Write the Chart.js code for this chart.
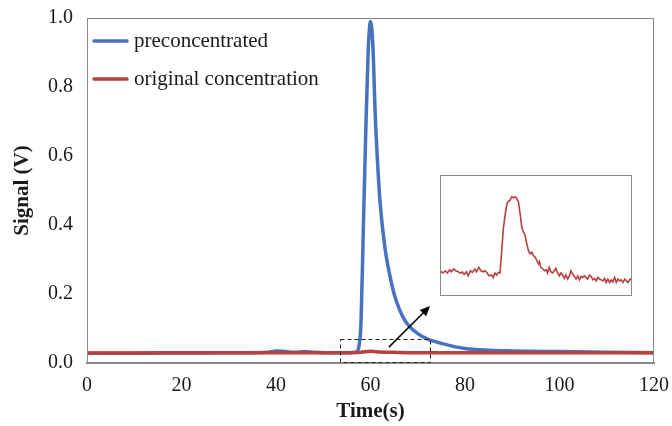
<!DOCTYPE html>
<html>
<head>
<meta charset="utf-8">
<script src="https://cdn.jsdelivr.net/npm/chart.js@4.4.1/dist/chart.umd.min.js"></script>
<style>
  html, body { margin: 0; padding: 0; background: #fff; }
  #wrap { position: relative; width: 672px; height: 426px; }
  #main { position: absolute; left: 0; top: 0; }
  #inset { position: absolute; left: 440px; top: 175px; }
</style>
</head>
<body>
<div id="wrap">
  <canvas id="main" width="672" height="426"></canvas>
  <canvas id="inset" width="192" height="121"></canvas>
</div>
<script>
// ---------- data ----------
const seriesNames = ['preconcentrated', 'original concentration'];

const preTime = [0, 5, 10, 15, 20, 25, 30, 35, 38, 40, 42, 44, 46, 48, 50, 54, 56, 57, 57.5, 58, 58.5, 59, 59.5, 60, 60.5, 61, 61.5, 62, 63, 64, 65, 66, 67, 68, 70, 72, 75, 80, 85, 90, 100, 110, 120];
const preSignal = [0.028, 0.028, 0.028, 0.029, 0.029, 0.029, 0.030, 0.030, 0.031, 0.035, 0.033, 0.031, 0.033, 0.031, 0.030, 0.030, 0.030, 0.032, 0.045, 0.12, 0.40, 0.67, 0.90, 0.99, 0.92, 0.72, 0.58, 0.47, 0.34, 0.26, 0.20, 0.16, 0.13, 0.11, 0.085, 0.07, 0.057, 0.042, 0.037, 0.035, 0.033, 0.031, 0.030];

const origTime = [0, 10, 20, 30, 40, 50, 55, 58, 60, 62, 65, 70, 80, 90, 100, 110, 120];
const origSignal = [0.029, 0.029, 0.030, 0.030, 0.030, 0.030, 0.030, 0.031, 0.034, 0.032, 0.031, 0.030, 0.030, 0.030, 0.030, 0.030, 0.030];

// inset: original concentration, zoomed (mV)
const insetTime = [53.5, 53.57, 53.80, 54.03, 54.23, 54.47, 54.63, 54.87, 55.07, 55.30, 55.53, 55.73, 55.90, 56.13, 56.30, 56.53, 56.73, 56.97, 57.13, 57.37, 57.57, 57.80, 57.97, 58.20, 58.37, 58.63, 58.80, 58.97, 59.13, 59.30, 59.47, 59.63, 59.80, 59.97, 60.13, 60.30, 60.47, 60.63, 60.80, 60.97, 61.13, 61.30, 61.47, 61.63, 61.80, 61.97, 62.13, 62.30, 62.47, 62.63, 62.80, 62.97, 63.13, 63.30, 63.40, 63.53, 63.73, 63.90, 64.07, 64.20, 64.37, 64.53, 64.70, 64.87, 65.03, 65.20, 65.37, 65.53, 65.70, 65.87, 66.03, 66.20, 66.37, 66.53, 66.70, 66.87, 67.03, 67.20, 67.37, 67.53, 67.70, 67.87, 68.03, 68.20, 68.37, 68.53, 68.70, 68.87, 69.03, 69.20, 69.37, 69.53, 69.70, 69.87, 70.03, 70.20, 70.37, 70.53, 70.70, 70.87, 71.03, 71.20, 71.37, 71.53, 71.70, 71.87, 72.03, 72.20, 72.37, 72.53];
const insetSignal = [30.18, 30.22, 30.14, 30.25, 30.14, 30.30, 30.20, 30.34, 30.25, 30.20, 30.14, 30.19, 30.07, 30.20, 30.00, 30.25, 30.17, 30.34, 30.20, 30.42, 30.25, 30.20, 30.25, 30.14, 30.00, 30.04, 29.92, 30.14, 30.04, 30.17, 30.14, 31.17, 32.34, 33.00, 33.50, 33.70, 33.75, 33.92, 33.87, 33.92, 33.84, 33.67, 33.09, 32.42, 32.17, 32.00, 31.59, 31.25, 31.09, 31.17, 31.00, 30.92, 30.75, 30.59, 30.70, 30.42, 30.34, 30.25, 30.30, 30.14, 30.42, 30.20, 30.14, 30.25, 30.37, 30.14, 30.00, 30.14, 30.04, 29.87, 30.04, 29.84, 30.00, 30.25, 30.09, 29.97, 29.84, 30.00, 29.80, 29.97, 29.92, 30.00, 29.92, 29.84, 30.04, 29.97, 29.80, 29.87, 29.75, 29.92, 29.84, 29.80, 29.75, 29.87, 29.67, 29.84, 29.67, 29.80, 29.70, 29.92, 29.67, 29.84, 29.75, 29.80, 29.67, 29.84, 29.75, 29.67, 29.80, 29.87];

// zoom box (data coords) and arrow
const zoomBox = { t0: 53.5, t1: 72.6, v0: 0.004, v1: 0.070 };
const arrowFrom = { t: 63.9, v: 0.046 };
const arrowTo = { t: 72.6, v: 0.165 };

const yTicks = [0, 0.2, 0.4, 0.6, 0.8, 1.0];
const xTicks = [0, 20, 40, 60, 80, 100, 120];

// ---------- styles ----------
const BLUE = '#4672c0';
const RED = '#b8403f';
const FRAME = '#8a8a8a';
const FONT = "'Liberation Serif', 'Times New Roman', serif";

const toXY = (ts, vs) => ts.map((t, i) => ({ x: t, y: vs[i] }));

const noOverflow = s => { s.paddingTop = 0; s.paddingBottom = 0; s.paddingLeft = 0; s.paddingRight = 0; };

const decorPlugin = {
  id: 'decor',
  afterDatasetsDraw(chart) {
    const { ctx, chartArea: a, scales: { x, y } } = chart;
    ctx.save();
    // frame
    ctx.strokeStyle = FRAME;
    ctx.lineWidth = 1;
    ctx.strokeRect(a.left + 0.5, a.top + 0.5, a.right - a.left - 1, a.bottom - a.top);
    // dashed zoom box
    ctx.strokeStyle = '#222';
    ctx.lineWidth = 1;
    ctx.setLineDash([4, 3]);
    const bx0 = x.getPixelForValue(zoomBox.t0), bx1 = x.getPixelForValue(zoomBox.t1);
    const by0 = y.getPixelForValue(zoomBox.v0), by1 = y.getPixelForValue(zoomBox.v1);
    ctx.strokeRect(Math.round(bx0) + 0.5, Math.round(by1) + 0.5, Math.round(bx1 - bx0), Math.round(by0 - by1));
    ctx.setLineDash([]);
    // arrow
    const ax0 = x.getPixelForValue(arrowFrom.t), ay0 = y.getPixelForValue(arrowFrom.v);
    const ax1 = x.getPixelForValue(arrowTo.t), ay1 = y.getPixelForValue(arrowTo.v);
    const ang = Math.atan2(ay1 - ay0, ax1 - ax0);
    const hl = 10, hw = 4.5;
    ctx.strokeStyle = '#000';
    ctx.fillStyle = '#000';
    ctx.lineWidth = 1.5;
    ctx.beginPath();
    ctx.moveTo(ax0, ay0);
    ctx.lineTo(ax1 - Math.cos(ang) * hl * 0.8, ay1 - Math.sin(ang) * hl * 0.8);
    ctx.stroke();
    ctx.beginPath();
    ctx.moveTo(ax1, ay1);
    ctx.lineTo(ax1 - Math.cos(ang) * hl - Math.sin(ang) * hw, ay1 - Math.sin(ang) * hl + Math.cos(ang) * hw);
    ctx.lineTo(ax1 - Math.cos(ang) * hl + Math.sin(ang) * hw, ay1 - Math.sin(ang) * hl - Math.cos(ang) * hw);
    ctx.closePath();
    ctx.fill();
    // legend
    const colors = [BLUE, RED];
    const rows = [a.top + 23, a.top + 61];
    ctx.font = '21px ' + FONT;
    ctx.textBaseline = 'middle';
    ctx.textAlign = 'left';
    seriesNames.forEach((name, i) => {
      ctx.strokeStyle = colors[i];
      ctx.lineWidth = 3.5;
      ctx.lineCap = 'round';
      ctx.beginPath();
      ctx.moveTo(a.left + 7, rows[i]);
      ctx.lineTo(a.left + 40, rows[i]);
      ctx.stroke();
      ctx.fillStyle = '#1a1a1a';
      ctx.fillText(name, a.left + 47, rows[i]);
    });
    ctx.restore();
  }
};

new Chart(document.getElementById('main'), {
  type: 'line',
  data: {
    datasets: [
      { label: seriesNames[0], data: toXY(preTime, preSignal), borderColor: BLUE, borderWidth: 3.5, pointRadius: 0, cubicInterpolationMode: 'monotone', order: 1 },
      { label: seriesNames[1], data: toXY(origTime, origSignal), borderColor: RED, borderWidth: 3.5, pointRadius: 0, cubicInterpolationMode: 'monotone', order: 0 }
    ]
  },
  options: {
    responsive: false,
    animation: false,
    events: [],
    layout: { padding: { top: 18, right: 18, left: 0, bottom: 0 } },
    plugins: { legend: { display: false }, tooltip: { enabled: false } },
    scales: {
      x: {
        type: 'linear', min: 0, max: 120,
        afterBuildTicks: s => { s.ticks = xTicks.map(v => ({ value: v })); },
        afterFit: s => { s.height = 63; noOverflow(s); },
        grid: { display: false, drawTicks: false },
        border: { display: true, color: FRAME, width: 2 },
        ticks: { color: '#1a1a1a', font: { family: FONT, size: 20 }, padding: 11, maxRotation: 0 },
        title: { display: true, text: 'Time(s)', color: '#1a1a1a', font: { family: FONT, size: 21, weight: 'bold' }, padding: { top: 0, bottom: 2 } }
      },
      y: {
        type: 'linear', min: 0, max: 1,
        afterBuildTicks: s => { s.ticks = yTicks.map(v => ({ value: v })); },
        afterFit: s => { s.width = 87; noOverflow(s); },
        grid: { display: false, drawTicks: false },
        border: { display: true, color: FRAME, width: 1 },
        ticks: { color: '#1a1a1a', font: { family: FONT, size: 20 }, padding: 14, callback: v => Number(v).toFixed(1) },
        title: { display: true, text: 'Signal (V)', color: '#1a1a1a', font: { family: FONT, size: 21, weight: 'bold' }, padding: { top: 10, bottom: 0 } }
      }
    }
  },
  plugins: [decorPlugin]
});

const insetFrame = {
  id: 'insetFrame',
  afterDraw(chart) {
    const { ctx, width, height } = chart;
    ctx.save();
    ctx.strokeStyle = FRAME;
    ctx.lineWidth = 1;
    ctx.strokeRect(0.5, 0.5, width - 1, height - 1);
    ctx.restore();
  }
};

new Chart(document.getElementById('inset'), {
  type: 'line',
  data: {
    datasets: [
      { label: seriesNames[1], data: toXY(insetTime, insetSignal), borderColor: RED, borderWidth: 1.6, pointRadius: 0, tension: 0 }
    ]
  },
  options: {
    responsive: false,
    animation: false,
    events: [],
    layout: { padding: 0 },
    plugins: { legend: { display: false }, tooltip: { enabled: false } },
    scales: {
      x: { type: 'linear', min: 53.5, max: 72.6, display: false },
      y: { type: 'linear', min: 29, max: 35, display: false }
    }
  },
  plugins: [insetFrame]
});
</script>
</body>
</html>
